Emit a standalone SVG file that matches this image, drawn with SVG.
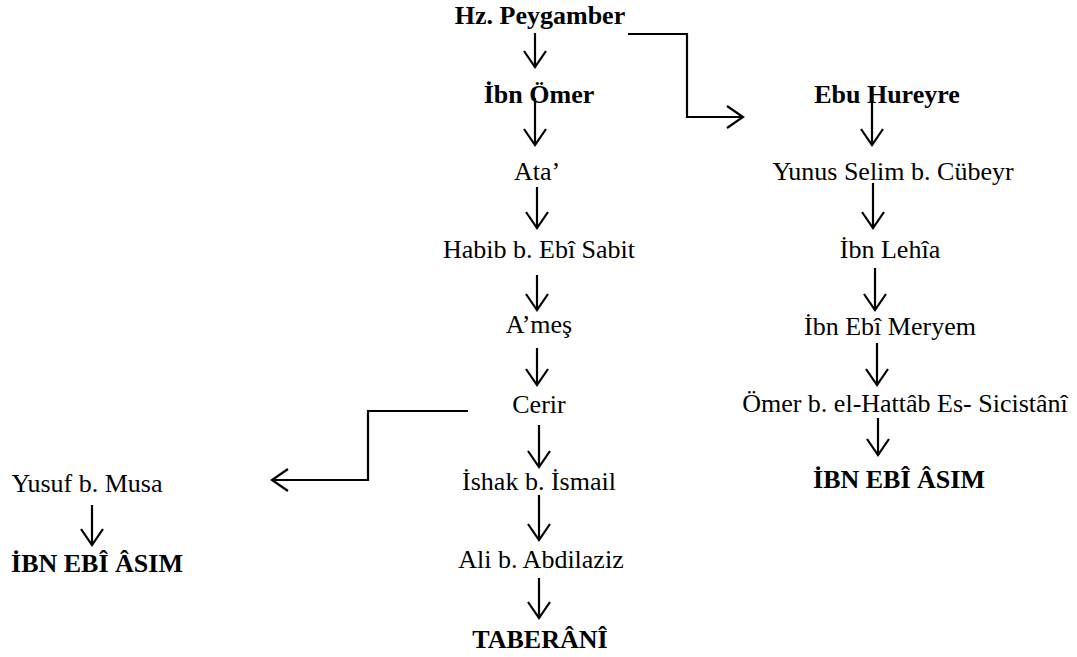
<svg xmlns="http://www.w3.org/2000/svg" width="1077" height="657" viewBox="0 0 1077 657">
<defs>
<marker id="ah" viewBox="-20 -13 23 26" refX="0" refY="0" markerWidth="23" markerHeight="26" markerUnits="userSpaceOnUse" orient="auto">
<path d="M-16,-11 L0,0 L-16,11" fill="none" stroke="#000" stroke-width="2.2"/>
</marker>
</defs>
<style>
text{font-family:"Liberation Serif","Times New Roman",serif;font-size:26px;fill:#000;text-anchor:middle}
.b{font-weight:bold}
.c{fill:none;stroke:#000;stroke-width:2.2;marker-end:url(#ah)}
</style>
<rect width="1077" height="657" fill="#fff"/>
<g id="connectors">
<path class="c" d="M535,33 V67"/>
<path class="c" d="M535,98 V145"/>
<path class="c" d="M537,187 V228"/>
<path class="c" d="M537,275 V310"/>
<path class="c" d="M537,348 V385"/>
<path class="c" d="M539,425 V467"/>
<path class="c" d="M539,495 V540"/>
<path class="c" d="M539,578 V618"/>
<path class="c" d="M628,34 H687 V117 H743"/>
<path class="c" d="M872,98 V145"/>
<path class="c" d="M873,183 V228"/>
<path class="c" d="M875,268 V310"/>
<path class="c" d="M877,343 V385"/>
<path class="c" d="M878,418 V455"/>
<path class="c" d="M468,411 H368 V480 H272"/>
<path class="c" d="M92,505 V545"/>
</g>
<g id="n-peygamber"><text class="b" x="540" y="24">Hz. Peygamber</text></g>
<g id="n-ibnomer"><text class="b" x="539" y="103">İbn Ömer</text></g>
<g id="n-ata"><text x="537" y="180">Ata’</text></g>
<g id="n-habib"><text x="539" y="258">Habib b. Ebî Sabit</text></g>
<g id="n-ames"><text x="539" y="333">A’meş</text></g>
<g id="n-cerir"><text x="539" y="413">Cerir</text></g>
<g id="n-ishak"><text x="539" y="490">İshak b. İsmail</text></g>
<g id="n-ali"><text x="541" y="568">Ali b. Abdilaziz</text></g>
<g id="n-taberani"><text class="b" x="540" y="648">TABERÂNÎ</text></g>
<g id="n-ebuhureyre"><text class="b" x="887" y="103">Ebu Hureyre</text></g>
<g id="n-yunus"><text x="893" y="180">Yunus Selim b. Cübeyr</text></g>
<g id="n-ibnlehia"><text x="890" y="258">İbn Lehîa</text></g>
<g id="n-ibnebimeryem"><text x="890" y="335">İbn Ebî Meryem</text></g>
<g id="n-omer"><text x="905" y="412">Ömer b. el-Hattâb Es- Sicistânî</text></g>
<g id="n-ibnebiasim-r"><text class="b" x="899" y="488">İBN EBÎ ÂSIM</text></g>
<g id="n-yusuf"><text x="87" y="492">Yusuf b. Musa</text></g>
<g id="n-ibnebiasim-l"><text class="b" x="97" y="572">İBN EBÎ ÂSIM</text></g>
</svg>
